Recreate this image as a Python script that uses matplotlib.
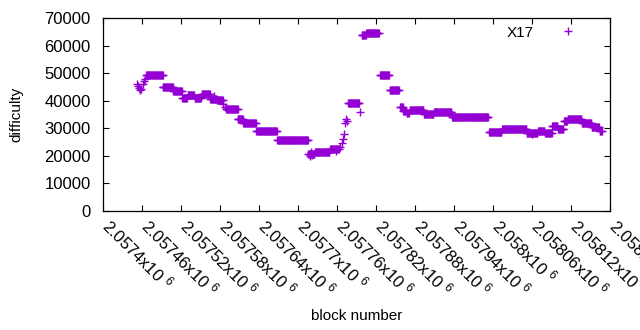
import numpy as np
import matplotlib
matplotlib.use("Agg")
import matplotlib.pyplot as plt
from matplotlib.transforms import ScaledTranslation

plt.rcParams['font.family'] = ['Liberation Sans', 'DejaVu Sans']
plt.rcParams['mathtext.fontset'] = 'custom'
plt.rcParams['mathtext.rm'] = 'Liberation Sans'
plt.rcParams['mathtext.it'] = 'Liberation Sans'

# flat stretches of difficulty: first block, last block, value
seg_start = [2057466, 2057492, 2057508, 2057522, 2057530, 2057541, 2057552, 2057565,
             2057575, 2057589, 2057608, 2057616, 2057636, 2057668, 2057716, 2057726,
             2057749, 2057777, 2057798, 2057805, 2057826, 2057841, 2057857, 2057862,
             2057867, 2057872, 2057894, 2057909, 2057937, 2057994, 2058014, 2058052,
             2058069, 2058080, 2058091, 2058100, 2058109, 2058115, 2058137, 2058152,
             2058164]
seg_end = [2057492, 2057507, 2057521, 2057529, 2057540, 2057550, 2057564, 2057574,
           2057584, 2057607, 2057615, 2057635, 2057667, 2057715, 2057725, 2057748,
           2057761, 2057794, 2057804, 2057824, 2057840, 2057855, 2057861, 2057866,
           2057870, 2057893, 2057908, 2057936, 2057992, 2058013, 2058051, 2058068,
           2058079, 2058090, 2058099, 2058108, 2058114, 2058136, 2058151, 2058163,
           2058167]
seg_diff = [49200, 44900, 43400, 41000, 42100, 40900, 42400, 40800,
            40200, 36900, 33400, 31800, 28900, 25600, 20700, 21500,
            22400, 39100, 63800, 64400, 49200, 43800, 37600, 36400,
            35500, 36600, 35200, 35900, 34000, 28500, 29600, 28200,
            29000, 28400, 30800, 29800, 32600, 33500, 31900, 30600,
            28900]

# isolated blocks between the flat stretches
single_block = [2057452, 2057454, 2057456, 2057457, 2057459, 2057461, 2057463, 2057465,
                2057571, 2057585, 2057587, 2057607, 2057718, 2057720, 2057722, 2057758,
                2057763, 2057765, 2057767, 2057769, 2057770, 2057772, 2057774, 2057775,
                2057796, 2057988, 2058060]
single_diff = [46000, 45500, 44500, 44000, 44300, 46000, 47000, 47900,
               41800, 38900, 37800, 33300, 20000, 21300, 20200, 21800,
               22500, 23300, 24800, 26000, 27900, 31800, 33200, 32500,
               35900, 34000, 28000]

xticks = [2057400 + 60 * i for i in range(14)]
xtick_labels = ['2.0574', '2.05746', '2.05752', '2.05758', '2.05764', '2.0577', '2.05776',
                '2.05782', '2.05788', '2.05794', '2.058', '2.05806', '2.05812', '2.05818']

blocks = list(single_block)
diffs = list(single_diff)
for s, e, d in zip(seg_start, seg_end, seg_diff):
    for b in range(s, e + 1):
        blocks.append(b)
        diffs.append(d)
blocks = np.array(blocks)
diffs = np.array(diffs)
order = np.argsort(blocks)

fs = 11
tfs = 12
fig = plt.figure(figsize=(6.4, 3.3), dpi=100)
ax = fig.add_axes([103 / 640, 1 - 211 / 330, 507 / 640, 193 / 330])

ax.plot(blocks[order], diffs[order], linestyle='none', marker='+', markersize=5.5,
        markeredgewidth=1.0, color='#9400D3', label='X17')

ax.set_xlim(2057400, 2058180)
ax.set_ylim(0, 70000)
ax.set_yticks(range(0, 70001, 10000))
ax.set_xticks(xticks)
ax.set_xticklabels([t + r'x10 $^{6}$' for t in xtick_labels], rotation=-45,
                   ha='left', va='center', rotation_mode='anchor')
ax.tick_params(direction='in', top=True, right=True, length=4, width=0.8,
               labelsize=tfs, color='black')
ax.tick_params(axis='x', pad=8)
ax.tick_params(axis='y', pad=9)
shift = ScaledTranslation(3 / 100, 0, fig.dpi_scale_trans)
for lab in ax.get_xticklabels():
    lab.set_transform(lab.get_transform() + shift)
for sp in ax.spines.values():
    sp.set_linewidth(0.9)

ax.set_xlabel('block number', fontsize=fs)
ax.xaxis.set_label_coords(0.5, -0.51)
ax.set_ylabel('difficulty', fontsize=fs)
ax.yaxis.set_label_coords(-0.158, 0.5)

ax.legend(loc='upper right', markerfirst=False, frameon=False, fontsize=fs,
          handlelength=2.5, handletextpad=1.0, borderaxespad=0.1,
          bbox_to_anchor=(0.97, 1.0))

fig.savefig('out.png', dpi=100)
